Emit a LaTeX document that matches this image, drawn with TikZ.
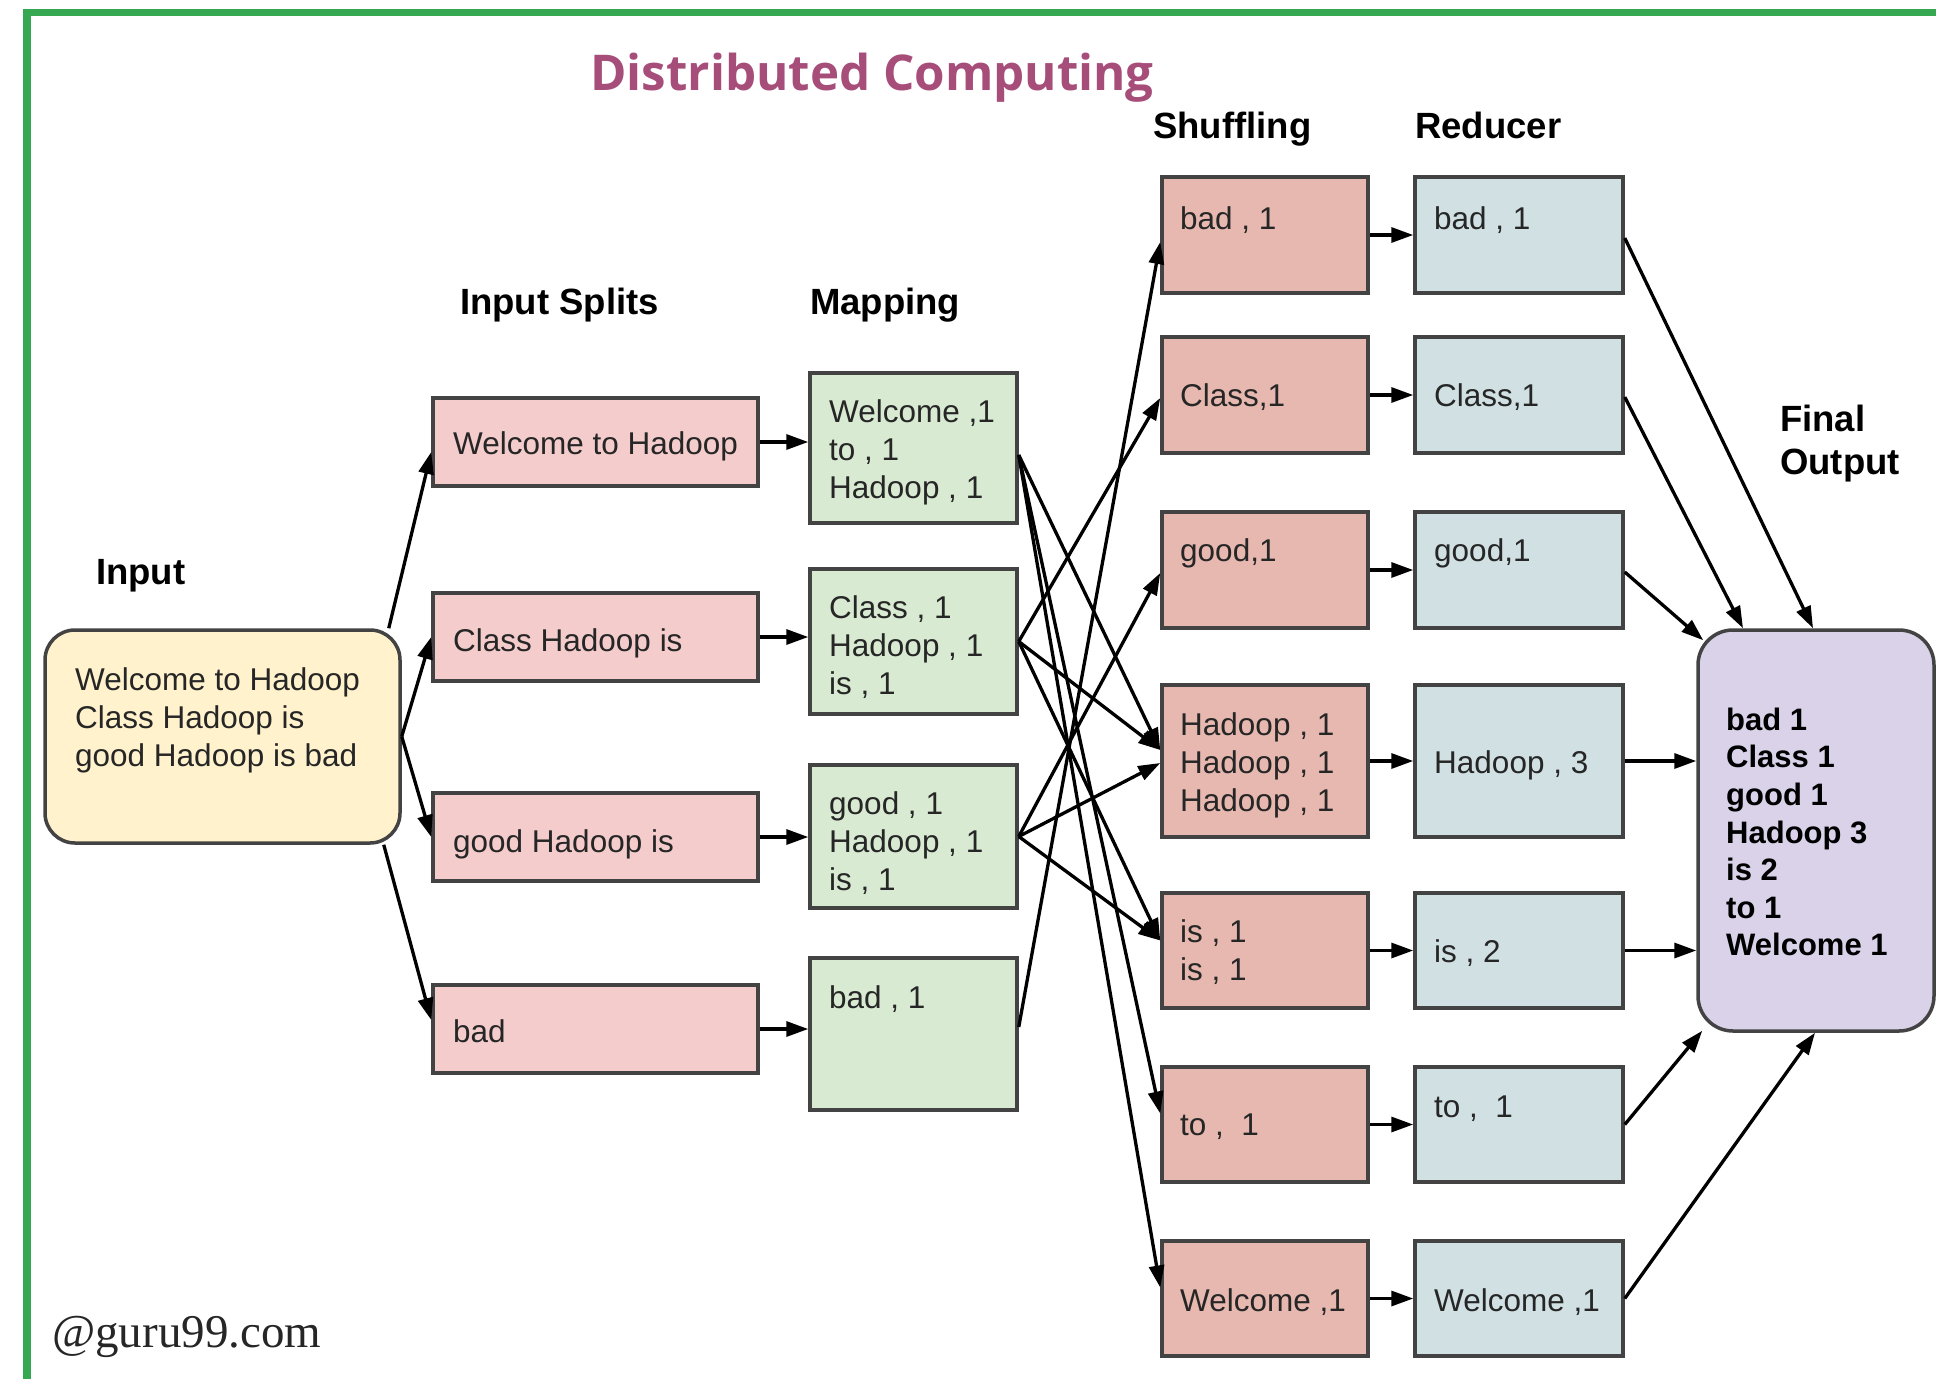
\documentclass[tikz,border=0pt]{standalone}
\usepackage{fontspec}
\setmainfont{Liberation Sans}
\newfontfamily\titlefont{Open Sans}
\newfontfamily\markfont{Liberation Serif}
\usetikzlibrary{arrows.meta,calc}

\definecolor{frameGreen}{HTML}{37A852}
\definecolor{titleCol}{HTML}{A64D79}
\definecolor{boxLine}{HTML}{434343}
\definecolor{txtCol}{HTML}{262626}
\definecolor{inFill}{HTML}{FFF2CC}
\definecolor{splitFill}{HTML}{F4CCCC}
\definecolor{mapFill}{HTML}{D9EAD3}
\definecolor{shufFill}{HTML}{E6B8AF}
\definecolor{redFill}{HTML}{D0E0E3}
\definecolor{outFill}{HTML}{D9D2E9}

\newcommand\bxfont{\fontsize{31.5}{38}\selectfont}
\newcommand\outfont{\fontsize{31}{37.6}\selectfont\bfseries}
\newcommand\lblfont{\fontsize{36.5}{43}\selectfont\bfseries}

\tikzset{
  basebox/.style={draw=boxLine, line width=3.5pt, inner sep=0pt},
  inbox/.style={basebox, fill=inFill, rounded corners=30pt},
  splitbox/.style={basebox, fill=splitFill, minimum width=325pt, minimum height=88pt},
  mapbox/.style={basebox, fill=mapFill, minimum width=207pt},
  shufbox/.style={basebox, fill=shufFill, minimum width=206pt},
  redbox/.style={basebox, fill=redFill, minimum width=208pt},
  outbox/.style={basebox, fill=outFill, rounded corners=35pt},
  btxt/.style={font=\bxfont, text=txtCol, inner sep=0pt, anchor=base west},
  mtxt/.style={font=\bxfont, text=txtCol, inner sep=0pt, anchor=north west, yshift=26.6pt, align=left},
  otxt/.style={font=\outfont, text=black, inner sep=0pt, anchor=north west, yshift=26.3pt, align=left},
  lbl/.style={font=\lblfont, text=black, inner sep=0pt, anchor=base west},
  arr/.style={draw=black, line width=3.3pt, -{Triangle[length=22pt,width=15pt]}},
}

\begin{document}
\begin{tikzpicture}[x=1pt,y=-1pt]
\useasboundingbox (0,0) rectangle (1936,1379);

% frame
\draw[frameGreen, line width=7.5pt] (27,1379) -- (27,12.5) -- (1936,12.5);

% headings
\node[font=\titlefont\bfseries\fontsize{49.3}{60}\selectfont, text=titleCol, inner sep=0pt, anchor=base west] (title) at (590,90) {Distributed Computing};
\node[lbl] (hShuf) at (1153,138) {Shuffling};
\node[lbl] (hRed) at (1415,138) {Reducer};
\node[lbl] (hSplit) at (460,314) {Input Splits};
\node[lbl] (hMap) at (810,314) {Mapping};
\node[lbl] (hIn) at (96,584) {Input};
\node[lbl, anchor=north west, yshift=30.1pt, align=left] (hOut) at (1780,435) {Final\\Output};

% input
\node[inbox, minimum width=355pt, minimum height=213pt] (in) at (222.5,736.5) {};
\node[mtxt] (inT) at (75,690) {\strut Welcome to Hadoop\\Class Hadoop is\\good Hadoop is bad};

% splits
\node[splitbox] (s1) at (595.5,442) {};
\node[splitbox] (s2) at (595.5,637) {};
\node[splitbox] (s3) at (595.5,837) {};
\node[splitbox] (s4) at (595.5,1029) {};
\node[btxt] (s1T) at (453,454) {Welcome to Hadoop};
\node[btxt] (s2T) at (453,651) {Class Hadoop is};
\node[btxt] (s3T) at (453,852) {good Hadoop is};
\node[btxt] (s4T) at (453,1042) {bad};

% mapping
\node[mapbox, minimum height=150pt] (m1) at (913.5,448) {};
\node[mapbox, minimum height=145pt] (m2) at (913.5,641.5) {};
\node[mapbox, minimum height=143pt] (m3) at (913.5,836.5) {};
\node[mapbox, minimum height=152pt] (m4) at (913.5,1034) {};
\node[mtxt] (m1T) at (829,422) {\strut Welcome ,1\\to , 1\\Hadoop , 1};
\node[mtxt] (m2T) at (829,618) {\strut Class , 1\\Hadoop , 1\\is , 1};
\node[mtxt] (m3T) at (829,814) {\strut good , 1\\Hadoop , 1\\is , 1};
\node[btxt] (m4T) at (829,1008) {bad , 1};

% shuffling
\node[shufbox, minimum height=116pt] (h1) at (1265,235) {};
\node[shufbox, minimum height=116pt] (h2) at (1265,395) {};
\node[shufbox, minimum height=116pt] (h3) at (1265,570) {};
\node[shufbox, minimum height=152pt] (h4) at (1265,761) {};
\node[shufbox, minimum height=115pt] (h5) at (1265,950.5) {};
\node[shufbox, minimum height=115pt] (h6) at (1265,1124.5) {};
\node[shufbox, minimum height=115pt] (h7) at (1265,1298.5) {};
\node[btxt] (h1T) at (1180,229) {bad , 1};
\node[btxt] (h2T) at (1180,406) {Class,1};
\node[btxt] (h3T) at (1180,561) {good,1};
\node[mtxt] (h4T) at (1180,735) {\strut Hadoop , 1\\Hadoop , 1\\Hadoop , 1};
\node[mtxt] (h5T) at (1180,942) {\strut is , 1\\is , 1};
\node[btxt] (h6T) at (1180,1135) {to ,\ \ 1};
\node[btxt] (h7T) at (1180,1311) {Welcome ,1};

% reducer
\node[redbox, minimum height=116pt] (r1) at (1519,235) {};
\node[redbox, minimum height=116pt] (r2) at (1519,395) {};
\node[redbox, minimum height=116pt] (r3) at (1519,570) {};
\node[redbox, minimum height=152pt] (r4) at (1519,761) {};
\node[redbox, minimum height=115pt] (r5) at (1519,950.5) {};
\node[redbox, minimum height=115pt] (r6) at (1519,1124.5) {};
\node[redbox, minimum height=115pt] (r7) at (1519,1298.5) {};
\node[btxt] (r1T) at (1434,229) {bad , 1};
\node[btxt] (r2T) at (1434,406) {Class,1};
\node[btxt] (r3T) at (1434,561) {good,1};
\node[btxt] (r4T) at (1434,773) {Hadoop , 3};
\node[btxt] (r5T) at (1434,962) {is , 2};
\node[btxt] (r6T) at (1434,1117) {to ,\ \ 1};
\node[btxt] (r7T) at (1434,1311) {Welcome ,1};

% final output
\node[outbox, minimum width=236pt, minimum height=401pt] (out) at (1816,830.5) {};
\node[otxt] (outT) at (1726,730) {\strut bad 1\\Class 1\\good 1\\Hadoop 3\\is 2\\to 1\\Welcome 1};

% input -> splits
\draw[arr] ([xshift=-13pt]in.north east) -- ([yshift=-10pt]s1.west);
\draw[arr] (in.east) -- (s2.west);
\draw[arr] (in.east) -- (s3.west);
\draw[arr] ([xshift=-18pt]in.south east) -- ([yshift=9pt]s4.west);

% splits -> mapping
\foreach \i in {1,2,3,4} {
  \draw[arr] (s\i.east) -- (s\i.east -| m\i.west);
}

% mapping -> shuffling
\draw[arr] ([yshift=-7pt]m1.east) -- ([yshift=11pt]h6.west);
\draw[arr] ([yshift=-7pt]m1.east) -- ([yshift=11pt]h7.west);
\draw[arr] ([yshift=-7pt]m1.east) -- ([yshift=11pt]h4.west);
\draw[arr] (m2.east) -- ([yshift=-3pt]h2.west);
\draw[arr] (m2.east) -- ([yshift=11pt]h4.west);
\draw[arr] (m2.east) -- ([yshift=10pt]h5.west);
\draw[arr] (m3.east) -- ([yshift=-3pt]h3.west);
\draw[arr] (m3.east) -- ([yshift=-2pt]h4.west);
\draw[arr] (m3.east) -- ([yshift=10pt]h5.west);
\draw[arr] ([yshift=7pt]m4.east) -- ([yshift=-7pt]h1.west);

% shuffling -> reducer
\foreach \i in {1,...,7} {
  \draw[arr] (h\i.east) -- (r\i.west);
}

% reducer -> final output
\draw[arr] ([yshift=-3pt]r1.east) -- ([xshift=-3pt]out.north);
\draw[arr] ([yshift=-2pt]r2.east) -- ([xshift=-73pt]out.north);
\draw[arr] ([yshift=-2pt]r3.east) -- ([xshift=7pt,yshift=-12pt]out.north west);
\draw[arr] (r4.east) -- (r4.east -| out.west);
\draw[arr] (r5.east) -- (r5.east -| out.west);
\draw[arr] (r6.east) -- ([xshift=6pt,yshift=2pt]out.south west);
\draw[arr] (r7.east) -- ([xshift=-1pt]out.south);

% watermark
\node[font=\markfont\fontsize{47}{56}\selectfont, text=black!85, inner sep=0pt, anchor=base west] (mark) at (52,1347) {@guru99.com};
\end{tikzpicture}
\end{document}
